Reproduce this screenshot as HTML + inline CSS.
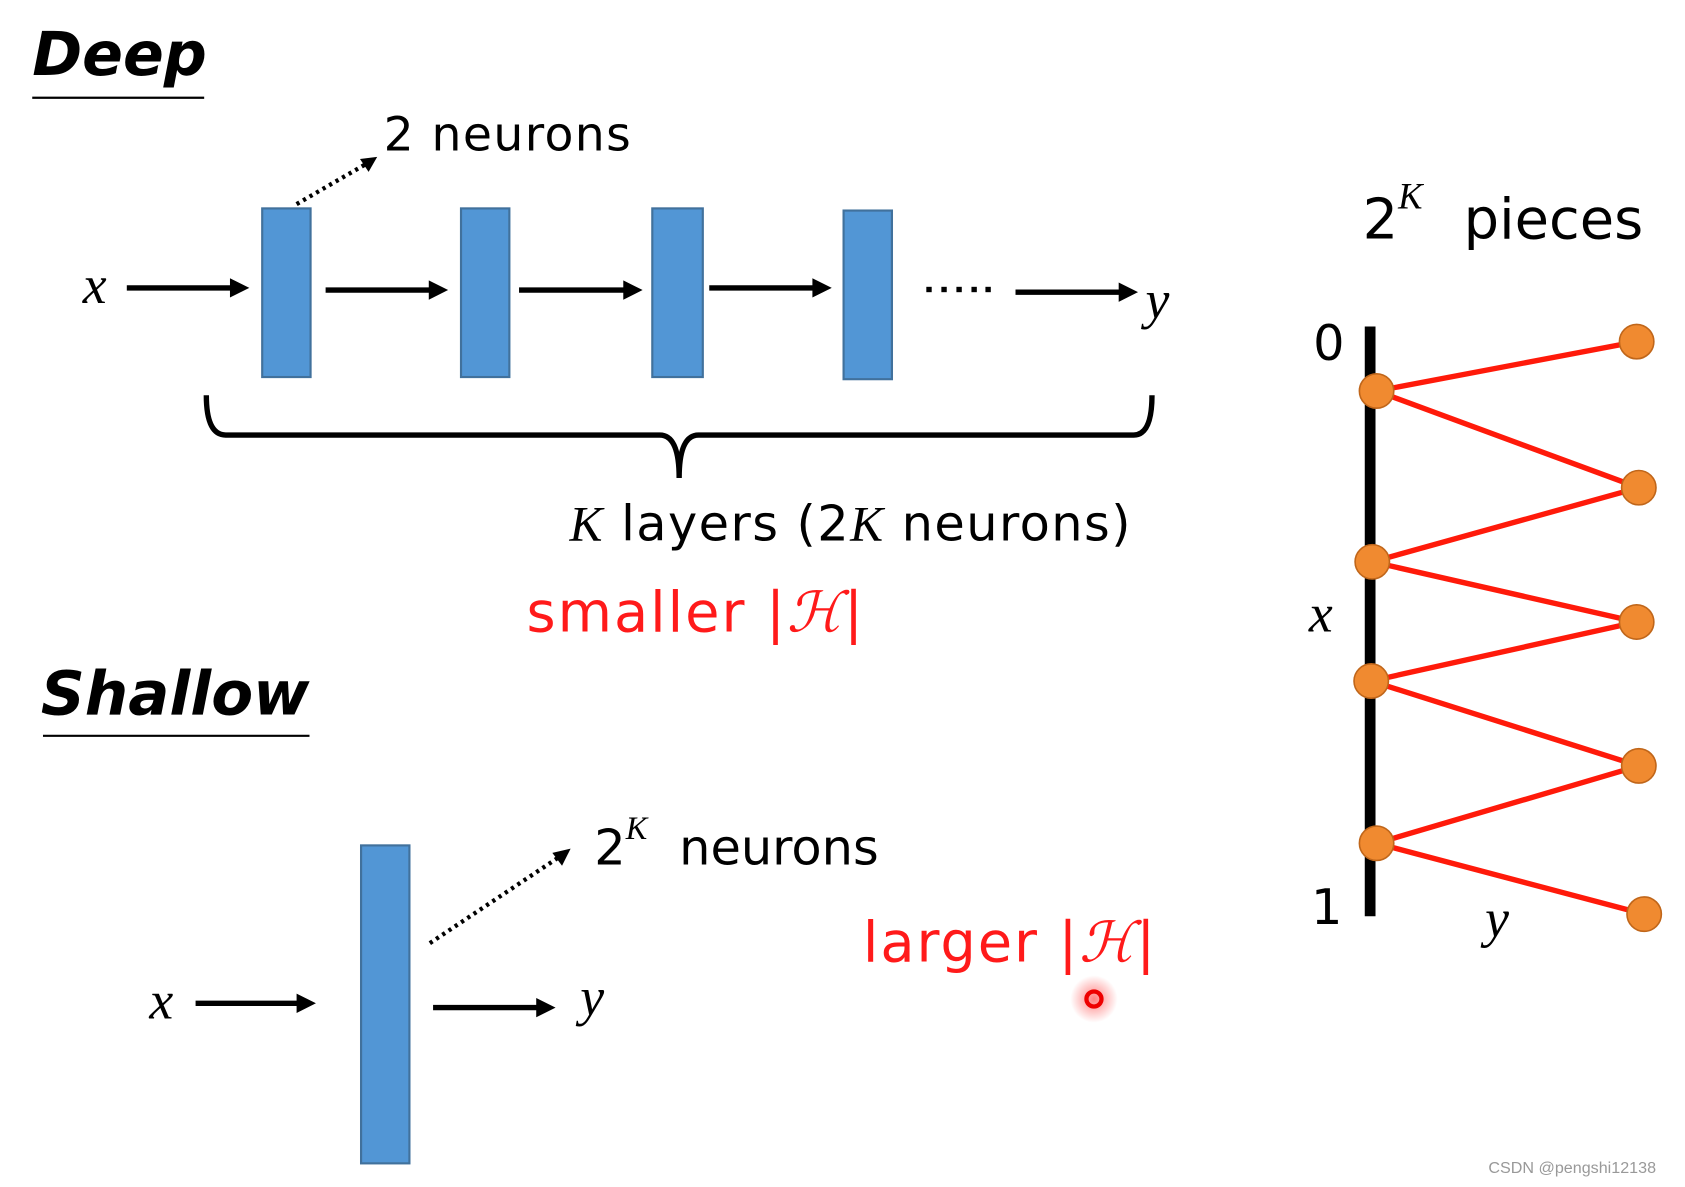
<!DOCTYPE html>
<html><head><meta charset="utf-8"><style>
html,body{margin:0;padding:0;background:#fff;}
svg{display:block;}
</style></head><body>
<svg width="1685" height="1187" viewBox="0 0 1568 1105" preserveAspectRatio="none" xmlns="http://www.w3.org/2000/svg">
<defs>
<radialGradient id="g"><stop offset="0" stop-color="#ff3030" stop-opacity="0.6"/><stop offset="1" stop-color="#ff3030" stop-opacity="0"/></radialGradient>
</defs>
<g font-family="DejaVu Sans, Liberation Sans, sans-serif">
<text x="30" y="70" font-size="56" font-weight="bold" font-style="italic">Deep</text>
<line x1="30" y1="91" x2="190" y2="91" stroke="#000" stroke-width="2"/>
<text x="357" y="140" font-size="44" textLength="230" lengthAdjust="spacing">2 neurons</text>
<text x="38" y="665" font-size="56" font-weight="bold" font-style="italic" textLength="250" lengthAdjust="spacingAndGlyphs">Shallow</text>
<line x1="40" y1="685" x2="288" y2="685" stroke="#000" stroke-width="2"/>
</g>
<line x1="276" y1="190" x2="340" y2="153" stroke="#000" stroke-width="4" stroke-dasharray="3,4"/>
<path d="M351,146 L335,148 L343,160 Z"/>
<line x1="400" y1="878" x2="520" y2="798" stroke="#000" stroke-width="4" stroke-dasharray="3,4"/>
<path d="M531,790 L514,794 L523,806 Z"/>
<g stroke="#000" stroke-width="5">
<line x1="118" y1="268" x2="218" y2="268"/>
<line x1="303" y1="270" x2="403" y2="270"/>
<line x1="483" y1="270" x2="584" y2="270"/>
<line x1="660" y1="268" x2="760" y2="268"/>
<line x1="945" y1="272" x2="1045" y2="272"/>
<line x1="182" y1="934" x2="280" y2="934"/>
<line x1="403" y1="938" x2="503" y2="938"/>
</g>
<g>
<path d="M232,268 L214,259 L214,277 Z"/>
<path d="M417,270 L399,261 L399,279 Z"/>
<path d="M598,270 L580,261 L580,279 Z"/>
<path d="M774,268 L756,259 L756,277 Z"/>
<path d="M1059,272 L1041,263 L1041,281 Z"/>
<path d="M294,934 L276,925 L276,943 Z"/>
<path d="M517,938 L499,929 L499,947 Z"/>
</g>
<g fill="#5296d5" stroke="#41719c" stroke-width="2">
<rect x="244" y="194" width="45" height="157"/>
<rect x="429" y="194" width="45" height="157"/>
<rect x="607" y="194" width="47" height="157"/>
<rect x="785" y="196" width="45" height="157"/>
<rect x="336" y="787" width="45" height="296"/>
</g>
<g fill="#000">
<rect x="862" y="267" width="5" height="5"/><rect x="876" y="267" width="5" height="5"/><rect x="890" y="267" width="5" height="5"/><rect x="904" y="267" width="5" height="5"/><rect x="917" y="267" width="5" height="5"/>
</g>
<g font-family="Liberation Serif, serif" font-style="italic" font-size="50">
<text x="77" y="282">x</text>
<text x="1066" y="296">y</text>
<text x="139" y="948">x</text>
<text x="540" y="945">y</text>
<text x="1218" y="588">x</text>
<text x="1382" y="872">y</text>
</g>
<path d="M192,368 Q192,405 210,405 L614,405 Q632,405 632,445 Q632,405 650,405 L1055,405 Q1072,405 1072,368" fill="none" stroke="#000" stroke-width="5"/>
<text x="530" y="503" font-size="46" font-family="DejaVu Sans, Liberation Sans, sans-serif" textLength="522" lengthAdjust="spacing"><tspan font-family="Liberation Serif, serif" font-style="italic">K</tspan> layers  (2<tspan font-family="Liberation Serif, serif" font-style="italic">K</tspan> neurons)</text>
<text x="490" y="588" font-size="52" fill="#ff1a1a" font-family="DejaVu Sans, Liberation Sans, sans-serif" textLength="313" lengthAdjust="spacing">smaller |<tspan font-family="Liberation Serif, serif" font-style="italic">ℋ</tspan>|</text>
<text x="803" y="895" font-size="52" fill="#ff1a1a" font-family="DejaVu Sans, Liberation Sans, sans-serif" textLength="272" lengthAdjust="spacing">larger |<tspan font-family="Liberation Serif, serif" font-style="italic">ℋ</tspan>|</text>
<text x="553" y="805" font-size="46" font-family="DejaVu Sans, Liberation Sans, sans-serif">2<tspan font-size="30" dy="-24" font-family="Liberation Serif, serif" font-style="italic">K</tspan><tspan dy="24" x="632">neurons</tspan></text>
<circle cx="1018" cy="930" r="22" fill="url(#g)"/>
<circle cx="1018" cy="930" r="7" fill="none" stroke="#e00" stroke-width="4"/>
<text x="1268" y="222" font-size="52" font-family="DejaVu Sans, Liberation Sans, sans-serif">2<tspan font-size="34" dy="-28" font-family="Liberation Serif, serif" font-style="italic">K</tspan><tspan dy="28" x="1362">pieces</tspan></text>
<text x="1222" y="335" font-size="46" font-family="DejaVu Sans, Liberation Sans, sans-serif">0</text>
<text x="1220" y="860" font-size="46" font-family="DejaVu Sans, Liberation Sans, sans-serif">1</text>
<line x1="1275" y1="304" x2="1275" y2="853" stroke="#000" stroke-width="10"/>
<polyline points="1523,318 1281,364 1525,454 1277,523 1523,579 1276,634 1525,713 1281,785 1530,851" fill="none" stroke="#ff1a0a" stroke-width="5"/>
<g fill="#f08a30" stroke="#c0661a" stroke-width="1.5">
<circle cx="1281" cy="364" r="16"/><circle cx="1277" cy="523" r="16"/><circle cx="1276" cy="634" r="16"/><circle cx="1281" cy="785" r="16"/>
<circle cx="1523" cy="318" r="16"/><circle cx="1525" cy="454" r="16"/><circle cx="1523" cy="579" r="16"/><circle cx="1525" cy="713" r="16"/><circle cx="1530" cy="851" r="16"/>
</g>
<text x="1385" y="1092" font-size="15" fill="#999" font-family="Liberation Sans, sans-serif">CSDN @pengshi12138</text>
</svg>
</body></html>
